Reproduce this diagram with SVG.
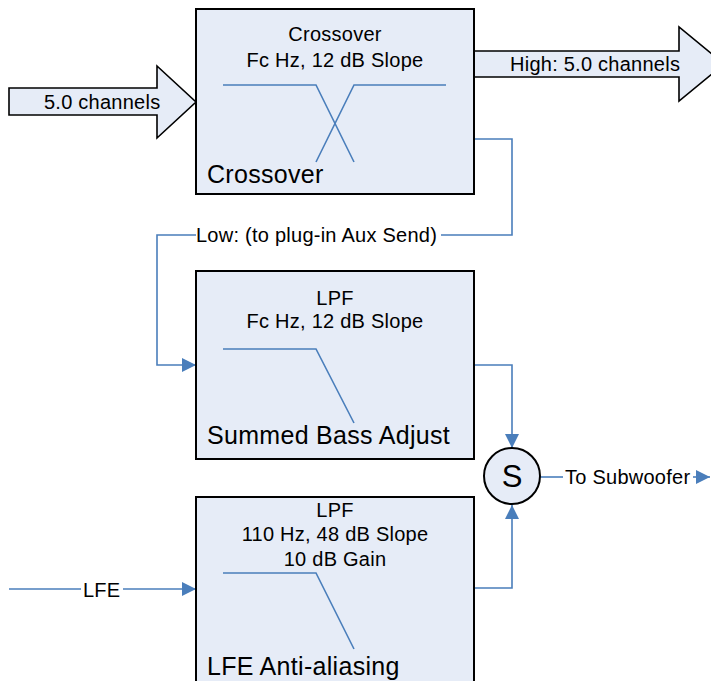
<svg xmlns="http://www.w3.org/2000/svg" width="711" height="681" viewBox="0 0 711 681">
<style>
.box{fill:#E6ECF7;stroke:#000;stroke-width:2}
.fat{fill:#E6ECF7;stroke:#000;stroke-width:1.6;stroke-linejoin:miter}
.curve{fill:none;stroke:#4A7EBB;stroke-width:1.6}
.conn{fill:none;stroke:#4A7EBB;stroke-width:1.6}
.t{font-family:"Liberation Sans",Arial,sans-serif;font-size:20px;letter-spacing:0.25px;fill:#000}
.m{text-anchor:middle}
.big{font-family:"Liberation Sans",Arial,sans-serif;font-size:25px;letter-spacing:0.3px;fill:#000}
</style>
<defs>
<marker id="ah" viewBox="0 0 14 14" refX="14" refY="7" markerWidth="14" markerHeight="14" markerUnits="userSpaceOnUse" orient="auto">
<path d="M0,0 L14,7 L0,14 z" fill="#4A7EBB"/>
</marker>
</defs>
<rect width="711" height="681" fill="#fff"/>

<g id="connectors">
<path class="conn" d="M474,139 H512 V235 H441"/>
<path class="conn" d="M196,235 H157 V365 H196" marker-end="url(#ah)"/>
<path class="conn" d="M474,365 H512 V448" marker-end="url(#ah)"/>
<path class="conn" d="M474,588 H512 V505" marker-end="url(#ah)"/>
<path class="conn" d="M540,477 H563"/>
<path class="conn" d="M693,477 H710" marker-end="url(#ah)"/>
<path class="conn" d="M9,589 H81"/>
<path class="conn" d="M123,589 H196" marker-end="url(#ah)"/>
<text class="t" x="196" y="242">Low: (to plug-in Aux Send)</text>
<text class="t" x="565" y="484">To Subwoofer</text>
<text class="t" x="83" y="597">LFE</text>
</g>

<g id="input-arrow">
<polygon class="fat" points="9,88 157,88 157,66 196,102 157,138 157,115 9,115"/>
<text class="t" x="44" y="109">5.0 channels</text>
</g>

<g id="high-arrow">
<polygon class="fat" points="474,51 679,51 679,27 724,64 679,101 679,77 474,77"/>
<text class="t" x="510" y="71">High: 5.0 channels</text>
</g>

<g id="crossover">
<rect class="box" x="196" y="9" width="278" height="185"/>
<text class="t m" x="335" y="41">Crossover</text>
<text class="t m" x="335" y="67">Fc Hz, 12 dB Slope</text>
<path class="curve" d="M223,85 H316 L354,162"/>
<path class="curve" d="M446,85 H354 L316,162"/>
<text class="big" x="207" y="183">Crossover</text>
</g>

<g id="summed-bass">
<rect class="box" x="196" y="271" width="278" height="188"/>
<text class="t m" x="335" y="305">LPF</text>
<text class="t m" x="335" y="328">Fc Hz, 12 dB Slope</text>
<path class="curve" d="M223,349 H316 L354,423"/>
<text class="big" x="207" y="444">Summed Bass Adjust</text>
</g>

<g id="lfe-anti-aliasing">
<rect class="box" x="196" y="497" width="278" height="200"/>
<text class="t m" x="335" y="517">LPF</text>
<text class="t m" x="335" y="541">110 Hz, 48 dB Slope</text>
<text class="t m" x="335" y="566">10 dB Gain</text>
<path class="curve" d="M223,573 H316 L354,649"/>
<text class="big" x="207" y="675">LFE Anti-aliasing</text>
</g>

<g id="sum">
<circle cx="512" cy="476" r="28" fill="#E6ECF7" stroke="#000" stroke-width="2"/>
<text x="512" y="487" text-anchor="middle" font-family="Liberation Sans, Arial, sans-serif" font-size="31">S</text>
</g>
</svg>
